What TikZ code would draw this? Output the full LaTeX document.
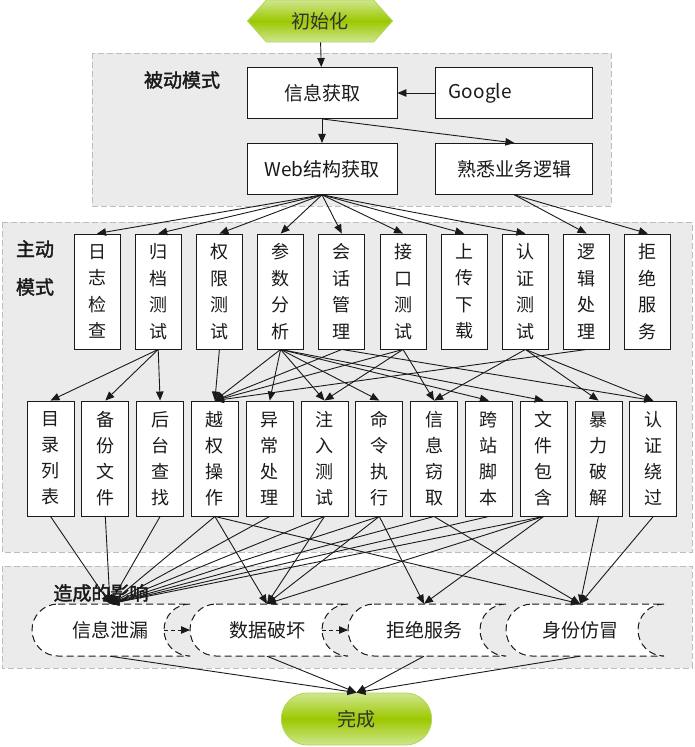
\documentclass[tikz,border=0pt]{standalone}
\usepackage{fontspec}
\setmainfont{Noto Sans CJK SC}[AutoFakeBold=2]
\usetikzlibrary{arrows.meta,positioning,shapes.symbols,shapes.misc}
\definecolor{ink}{HTML}{1A1A1A}
\definecolor{regionfill}{HTML}{EBEBEB}
\definecolor{regionline}{HTML}{BDBDBD}
\definecolor{greenlight}{HTML}{CFE68E}
\definecolor{greenmid}{HTML}{9CC800}
\definecolor{greenline}{HTML}{B2D65A}
\definecolor{textgray}{HTML}{333333}
\tikzset{
  every node/.style={font=\fontsize{19}{24}\selectfont, text=ink},
  box/.style={draw=ink, fill=white, line width=0.9pt, minimum width=150pt, minimum height=51pt, inner sep=0pt},
  vbox/.style={draw=ink, fill=white, line width=0.9pt, minimum width=46pt, minimum height=115pt, inner sep=0pt, align=center, font=\fontsize{18}{26.5}\selectfont},
  tbox/.style={vbox, minimum width=47pt, font=\fontsize{18}{26}\selectfont},
  region/.style={draw=regionline, fill=regionfill, dash pattern=on 6pt off 3pt, line width=0.8pt},
  tag/.style={font=\fontsize{19}{38}\selectfont\bfseries, align=center},
  terminal/.style={draw=greenline, line width=0.8pt, top color=greenlight, bottom color=greenlight, middle color=greenmid, text=textgray},
  impact/.style={draw=ink, fill=white, line width=1pt, dash pattern=on 7pt off 4pt},
  arrow/.style={-{Triangle[length=9pt,width=7.5pt]}, line width=0.9pt, draw=ink},
  dasharrow/.style={arrow, dash pattern=on 4pt off 3pt},
}
\begin{document}
\begin{tikzpicture}[x=1pt, y=-1pt, node distance=14.3pt]
\useasboundingbox (0,0) rectangle (694,747);
% grouped areas
\path[region] (92,53) rectangle (611,206);
\path[region] (2,222) rectangle (692,552);
\path[region] (2,566) rectangle (692,668);
\node[tag] (passive) at (182,80) {被动模式};
\node[tag] (active) at (35,268) {主动\\模式};

% passive mode
\node[terminal, signal, signal to=east and west, signal pointer angle=96, minimum width=145pt, minimum height=42pt] (init) at (320,21) {初始化};
\node[box] (info) at (322,93) {信息获取};
\node[box, minimum width=157pt, right=38pt of info, align=left, text width=131pt] (google) {Google};
\node[box, below=24pt of info] (web) {Web结构获取};
\node[box, minimum width=157pt, right=38pt of web] (biz) {熟悉业务逻辑};
\draw[arrow](init)--(info);\draw[arrow](google)--(info);\draw[arrow](info)--(web);\draw[arrow](info.south)--(biz.north);

% active mode, tests
\node[vbox] (log) at (97,291.5) {日\\志\\检\\查};
\node[vbox, right=of log] (arch) {归\\档\\测\\试};
\node[vbox, right=of arch] (perm) {权\\限\\测\\试};
\node[vbox, right=of perm] (param) {参\\数\\分\\析};
\node[vbox, right=of param] (sess) {会\\话\\管\\理};
\node[vbox, right=of sess] (api) {接\\口\\测\\试};
\node[vbox, right=of api] (upl) {上\\传\\下\\载};
\node[vbox, right=of upl] (auth) {认\\证\\测\\试};
\node[vbox, right=of auth] (logic) {逻\\辑\\处\\理};
\node[vbox, right=of logic] (dos) {拒\\绝\\服\\务};
\draw[arrow](web.south)--(log.north);\draw[arrow](web.south)--(arch.north);\draw[arrow](web.south)--(perm.north);\draw[arrow](web.south)--(param.north);
\draw[arrow](web.south)--(sess.north);\draw[arrow](web.south)--(api.north);\draw[arrow](web.south)--(upl.north);\draw[arrow](web.south)--(auth.north);
\draw[arrow](biz.south)--(logic.north);\draw[arrow](biz.south)--(dos.north);

% active mode, attacks
\node[tbox] (dir) at (50.5,458.5) {目\\录\\列\\表};
\node[tbox, right=6.9pt of dir] (bak) {备\\份\\文\\件};
\node[tbox, right=6.9pt of bak] (admin) {后\\台\\查\\找};
\node[tbox, right=6.9pt of admin] (priv) {越\\权\\操\\作};
\node[tbox, right=6.9pt of priv] (exc) {异\\常\\处\\理};
\node[tbox, right=6.9pt of exc] (inj) {注\\入\\测\\试};
\node[tbox, right=6.9pt of inj] (cmd) {命\\令\\执\\行};
\node[tbox, right=6.9pt of cmd] (steal) {信\\息\\窃\\取};
\node[tbox, right=6.9pt of steal] (xss) {跨\\站\\脚\\本};
\node[tbox, right=6.9pt of xss] (incl) {文\\件\\包\\含};
\node[tbox, right=6.9pt of incl] (brute) {暴\\力\\破\\解};
\node[tbox, right=6.9pt of brute] (bypass) {认\\证\\绕\\过};
\draw[arrow](arch.south)--(dir.north);\draw[arrow](arch.south)--(bak.north);\draw[arrow](arch.south)--(admin.north);
\draw[arrow](perm.south)--(priv.north);\draw[arrow](param.south)--(priv.north);\draw[arrow](sess.south)--(priv.north);\draw[arrow](api.south)--(priv.north);\draw[arrow](logic.south)--(priv.north);
\draw[arrow](param.south)--(exc.north);\draw[arrow](param.south)--(inj.north);\draw[arrow](param.south)--(cmd.north);\draw[arrow](param.south)--(xss.north);\draw[arrow](param.south)--(incl.north);
\draw[arrow](api.south)--(inj.north);\draw[arrow](api.south)--(steal.north);\draw[arrow](sess.south)--(bypass.north);
\draw[arrow](auth.south)--(steal.north);\draw[arrow](auth.south)--(brute.north);\draw[arrow](auth.south)--(bypass.north);

% impact
\node[tag] (effect) at (101,593) {造成的影响};
\draw[impact] (58,604)--(190,604) arc[start angle=90,end angle=270,radius=26pt]--(58,656) arc[start angle=270,end angle=90,radius=26pt]--cycle;
\draw[impact] (216,604)--(348,604) arc[start angle=90,end angle=270,radius=26pt]--(216,656) arc[start angle=270,end angle=90,radius=26pt]--cycle;
\draw[impact] (374,604)--(506,604) arc[start angle=90,end angle=270,radius=26pt]--(374,656) arc[start angle=270,end angle=90,radius=26pt]--cycle;
\draw[impact] (532,604)--(664,604) arc[start angle=90,end angle=270,radius=26pt]--(532,656) arc[start angle=270,end angle=90,radius=26pt]--cycle;
\node[minimum height=52pt] (leak) at (110,630) {信息泄漏};
\node[minimum height=52pt] (damage) at (267,630) {数据破坏};
\node[minimum height=52pt] (deny) at (424,630) {拒绝服务};
\node[minimum height=52pt] (spoof) at (580,630) {身份仿冒};
\coordinate (leak-r) at (164,630);\coordinate (damage-l) at (190,630);
\coordinate (damage-r) at (322,630);\coordinate (deny-l) at (348,630);
\draw[dasharrow](leak-r)--(damage-l);\draw[dasharrow](damage-r)--(deny-l);
\draw[arrow](dir.south)--(leak.north);\draw[arrow](bak.south)--(leak.north);\draw[arrow](admin.south)--(leak.north);\draw[arrow](priv.south)--(leak.north);
\draw[arrow](exc.south)--(leak.north);\draw[arrow](inj.south)--(leak.north);\draw[arrow](cmd.south)--(leak.north);\draw[arrow](steal.south)--(leak.north);
\draw[arrow](xss.south)--(leak.north);\draw[arrow](incl.south)--(leak.north);
\draw[arrow](priv.south)--(damage.north);\draw[arrow](inj.south)--(damage.north);\draw[arrow](cmd.south)--(damage.north);\draw[arrow](incl.south)--(damage.north);
\draw[arrow](cmd.south)--(deny.north);\draw[arrow](incl.south)--(deny.north);
\draw[arrow](priv.south)--(spoof.north);\draw[arrow](steal.south)--(spoof.north);\draw[arrow](brute.south)--(spoof.north);\draw[arrow](bypass.south)--(spoof.north);

% end
\node[terminal, rounded rectangle, minimum width=157pt, minimum height=52pt] (done) at (356.5,719) {完成};
\draw[arrow](leak.south)--(done.north);\draw[arrow](damage.south)--(done.north);\draw[arrow](deny.south)--(done.north);\draw[arrow](spoof.south)--(done.north);
\end{tikzpicture}
\end{document}
